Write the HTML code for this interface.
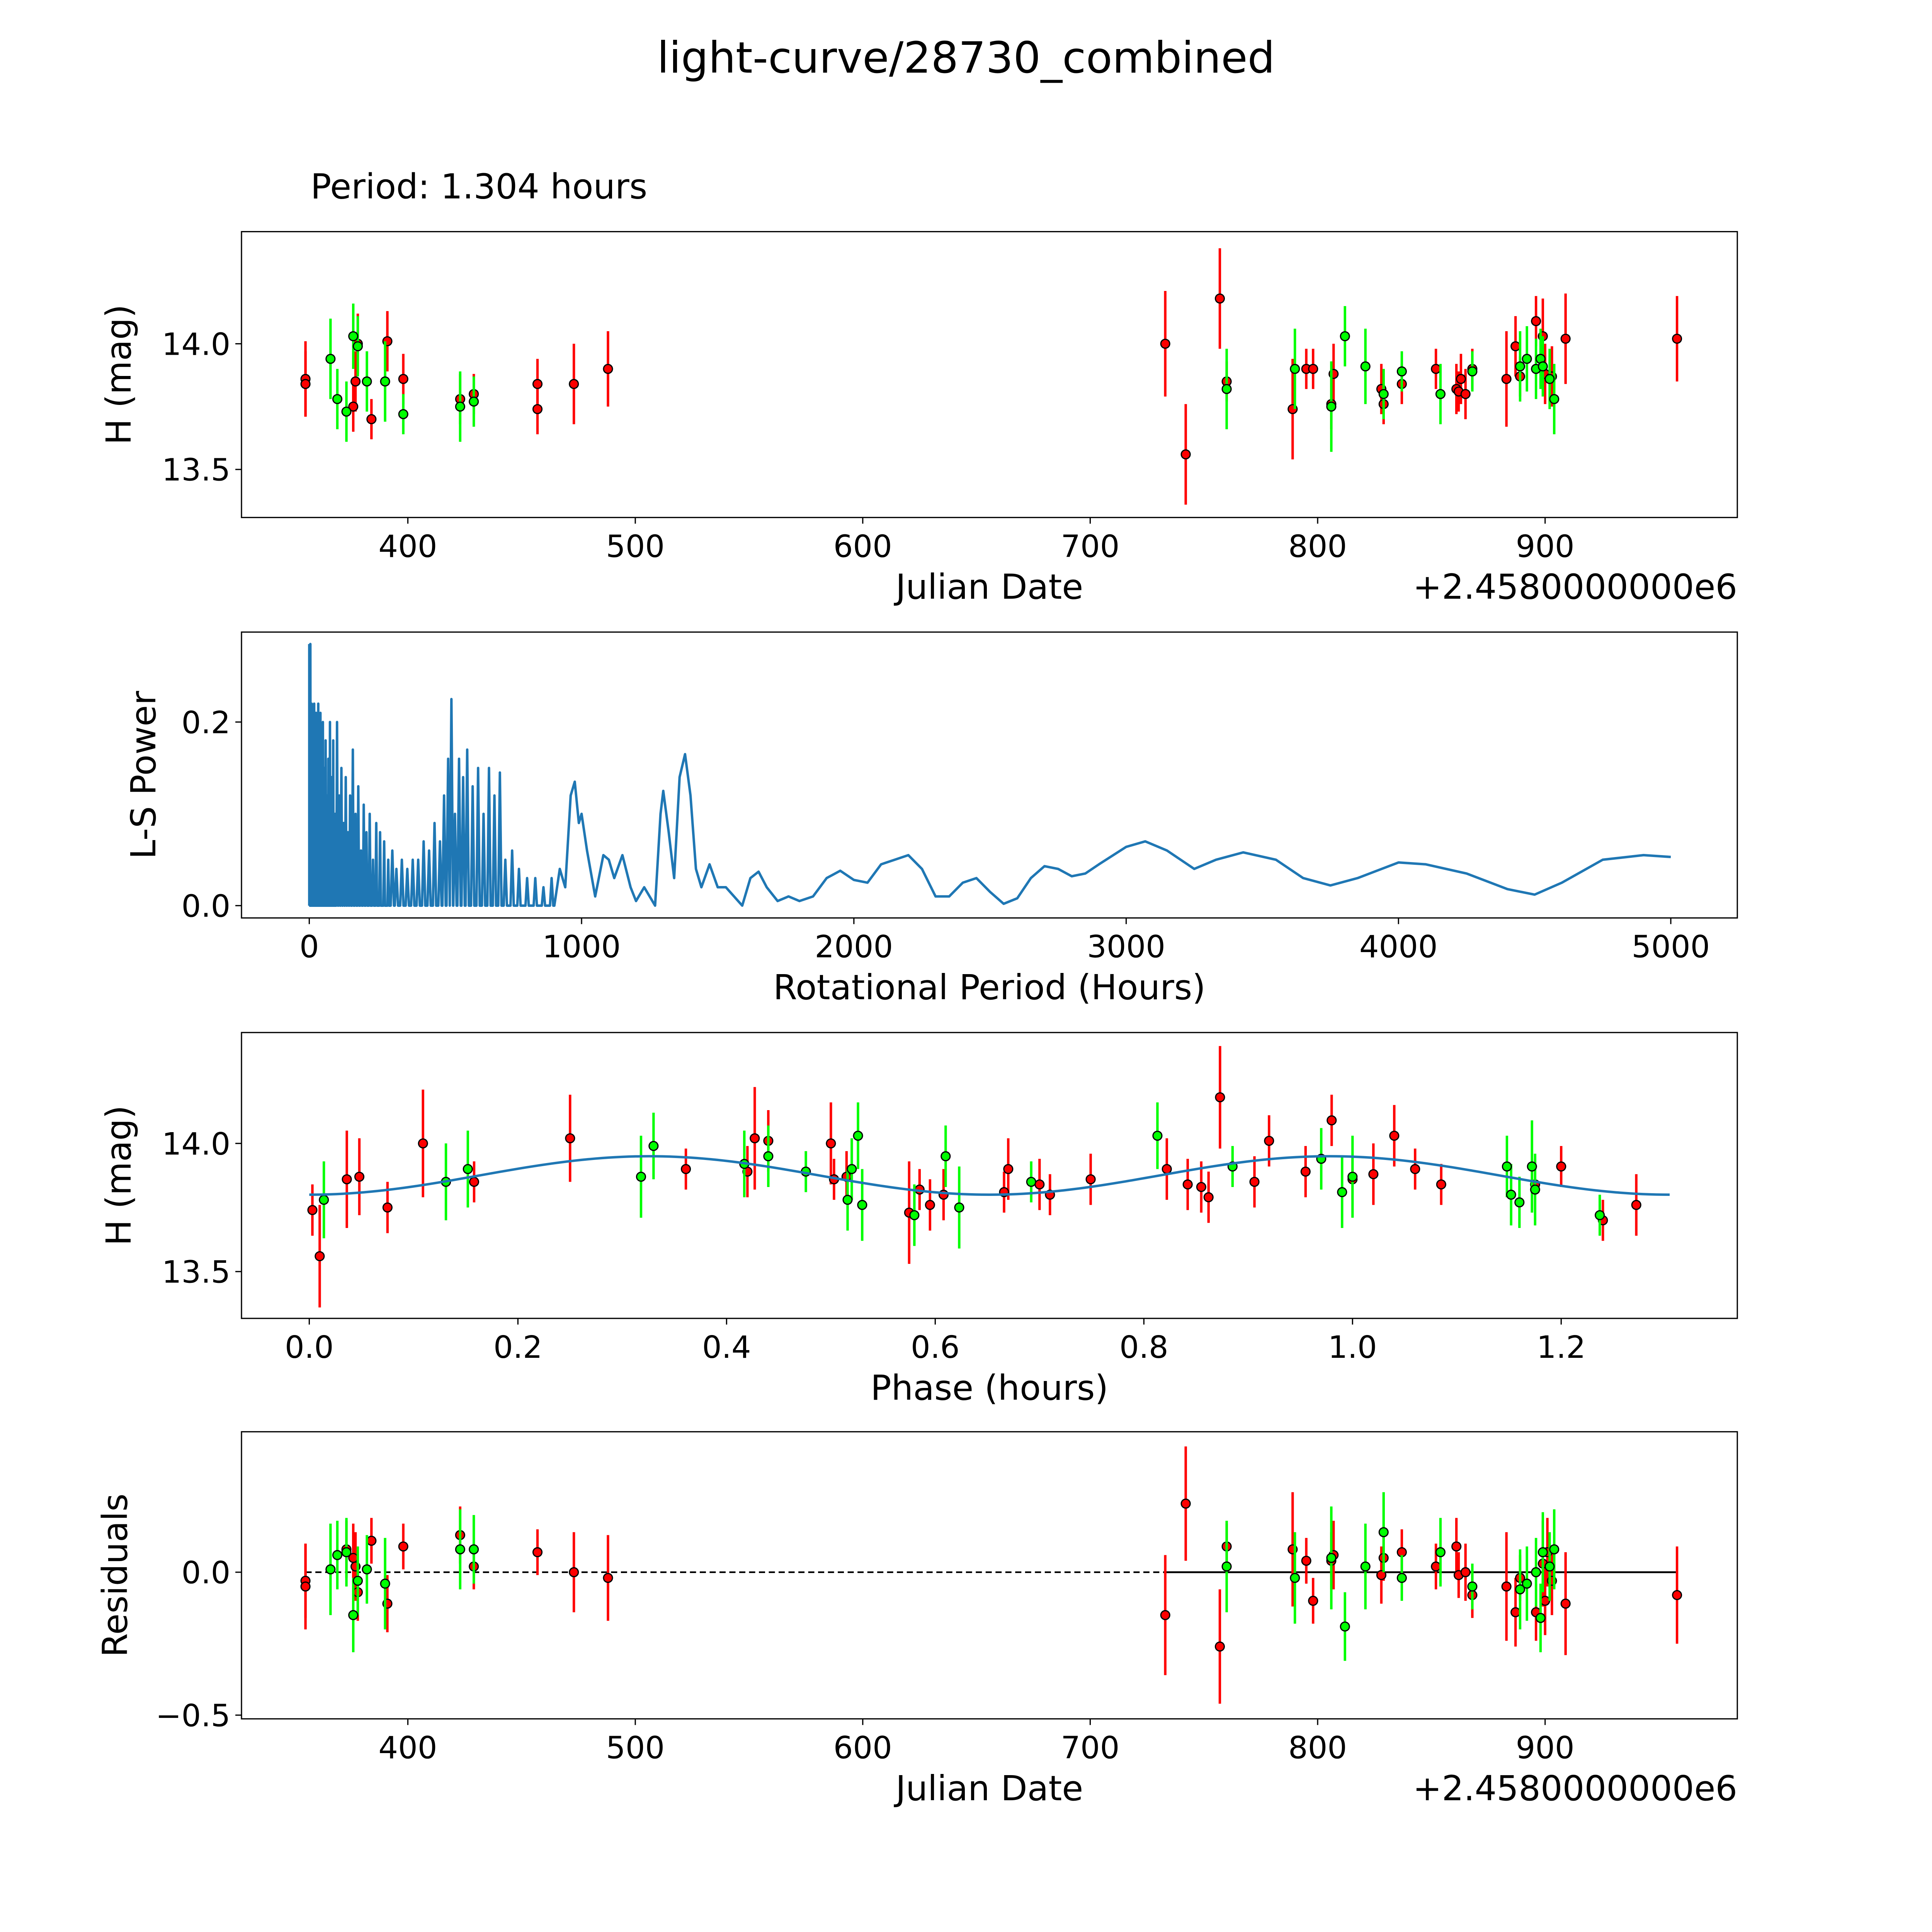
<!DOCTYPE html>
<html><head><meta charset="utf-8"><style>
html,body{margin:0;padding:0;background:#fff;width:100%;height:100%;overflow:hidden;}
svg{display:block;width:100vw;height:100vh;font-family:"DejaVu Sans","Liberation Sans",sans-serif;}
</style></head><body>
<svg id="fig" xmlns="http://www.w3.org/2000/svg" viewBox="0 0 1568 1568" preserveAspectRatio="none">
<rect width="1568" height="1568" fill="#fff"/>
<text x="784" y="59" font-size="35" text-anchor="middle">light-curve/28730_combined</text>
<text x="252" y="161" font-size="28">Period: 1.304 hours</text>
<g id="plots"></g>
</svg>
<script>
// ---- data ----
const lcRed=[[355,13.86,0.15],[355,13.84,0.13],[376,13.75,0.1],[377,13.85,0.12],[378,14.0,0.12],[384,13.70,0.08],[391,14.01,0.12],[398,13.86,0.1],[423,13.78,0.1],[429,13.80,0.08],[457,13.84,0.1],[457,13.74,0.1],[473,13.84,0.16],[488,13.90,0.15],[733,14.0,0.21],[742,13.56,0.2],[757,14.18,0.2],[760,13.85,0.08],[789,13.74,0.2],[795,13.90,0.08],[798,13.90,0.08],[806,13.76,0.1],[807,13.88,0.12],[828,13.82,0.1],[829,13.76,0.08],[837,13.84,0.08],[852,13.90,0.08],[861,13.82,0.1],[862,13.81,0.08],[863,13.86,0.1],[865,13.80,0.1],[868,13.90,0.08],[883,13.86,0.19],[887,13.99,0.12],[889,13.87,0.08],[896,14.09,0.1],[899,14.03,0.15],[900,13.88,0.12],[903,13.87,0.12],[909,14.02,0.18],[958,14.02,0.17]];
const lcGreen=[[366,13.94,0.16],[369,13.78,0.12],[373,13.73,0.12],[376,14.03,0.13],[378,13.99,0.12],[382,13.85,0.12],[390,13.85,0.16],[398,13.72,0.08],[423,13.75,0.14],[429,13.77,0.1],[760,13.82,0.16],[790,13.90,0.16],[806,13.75,0.18],[812,14.03,0.12],[821,13.91,0.15],[829,13.80,0.1],[837,13.89,0.08],[854,13.80,0.12],[868,13.89,0.08],[889,13.91,0.14],[892,13.94,0.13],[896,13.90,0.12],[898,13.94,0.12],[899,13.91,0.12],[902,13.86,0.12],[904,13.78,0.14]];
const phRed=[[0.003,13.74,0.1],[0.01,13.56,0.2],[0.036,13.86,0.19],[0.048,13.87,0.15],[0.075,13.75,0.1],[0.109,14.0,0.21],[0.158,13.85,0.08],[0.25,14.02,0.17],[0.361,13.90,0.08],[0.42,13.89,0.1],[0.427,14.02,0.2],[0.44,14.01,0.12],[0.50,14.0,0.16],[0.503,13.86,0.08],[0.515,13.87,0.1],[0.575,13.73,0.2],[0.585,13.82,0.08],[0.595,13.76,0.1],[0.608,13.80,0.1],[0.666,13.81,0.08],[0.67,13.90,0.12],[0.70,13.84,0.1],[0.71,13.80,0.08],[0.749,13.86,0.1],[0.822,13.90,0.12],[0.842,13.84,0.1],[0.855,13.83,0.1],[0.862,13.79,0.1],[0.873,14.18,0.2],[0.906,13.85,0.1],[0.92,14.01,0.1],[0.955,13.89,0.1],[0.98,14.09,0.1],[1.0,13.86,0.08],[1.02,13.88,0.12],[1.04,14.03,0.12],[1.06,13.90,0.08],[1.085,13.84,0.08],[1.175,13.84,0.1],[1.20,13.91,0.08],[1.24,13.70,0.08],[1.272,13.76,0.12]];
const phGreen=[[0.014,13.78,0.15],[0.131,13.85,0.15],[0.152,13.90,0.15],[0.318,13.87,0.16],[0.33,13.99,0.13],[0.417,13.92,0.13],[0.44,13.95,0.12],[0.476,13.89,0.08],[0.516,13.78,0.12],[0.52,13.90,0.12],[0.526,14.03,0.13],[0.53,13.76,0.14],[0.58,13.72,0.12],[0.61,13.95,0.12],[0.623,13.75,0.16],[0.692,13.85,0.08],[0.813,14.03,0.13],[0.885,13.91,0.08],[0.97,13.94,0.12],[0.99,13.81,0.14],[1.0,13.87,0.16],[1.148,13.91,0.12],[1.152,13.80,0.12],[1.16,13.77,0.1],[1.172,13.91,0.18],[1.175,13.82,0.14],[1.237,13.72,0.08]];
const modelMean=13.875, modelAmp=0.075, modelPeriod=1.304;
const resRed=[[355,-0.03,0.13],[355,-0.05,0.15],[373,0.08,0.1],[376,0.05,0.12],[377,0.02,0.12],[378,-0.07,0.1],[384,0.11,0.08],[391,-0.11,0.1],[398,0.09,0.08],[423,0.13,0.1],[429,0.02,0.08],[457,0.07,0.08],[473,0.0,0.14],[488,-0.02,0.15],[733,-0.15,0.21],[742,0.24,0.2],[757,-0.26,0.2],[760,0.09,0.08],[789,0.08,0.2],[795,0.04,0.08],[798,-0.10,0.08],[806,0.04,0.1],[807,0.06,0.12],[828,-0.01,0.1],[829,0.05,0.08],[837,0.07,0.08],[852,0.02,0.08],[861,0.09,0.1],[862,-0.01,0.08],[865,0.0,0.1],[868,-0.08,0.08],[883,-0.05,0.19],[887,-0.14,0.12],[889,-0.02,0.08],[896,-0.14,0.1],[899,0.03,0.15],[900,-0.10,0.12],[901,0.07,0.12],[903,-0.03,0.12],[909,-0.11,0.18],[958,-0.08,0.17]];
const resGreen=[[366,0.01,0.16],[369,0.06,0.12],[373,0.07,0.12],[376,-0.15,0.13],[378,-0.03,0.12],[382,0.01,0.12],[390,-0.04,0.16],[423,0.08,0.14],[429,0.08,0.12],[760,0.02,0.16],[790,-0.02,0.16],[806,0.05,0.18],[812,-0.19,0.12],[821,0.02,0.15],[829,0.14,0.14],[837,-0.02,0.08],[854,0.07,0.12],[868,-0.05,0.08],[889,-0.06,0.14],[892,-0.04,0.13],[896,0.0,0.12],[898,-0.16,0.12],[899,0.07,0.14],[902,0.02,0.12],[904,0.08,0.14]];
const spikePeriods=[2,4,6,9,12,15,18,21,25,29,33,37,41,45,50,55,60,65,70,76,82,88,95,102,110,118,126,134,142,150,160,170,180,190,200,210,222,234,246,260,275,290,305,320,340,360,380,400,420,440,460,480,495,510,522,535,550,565,580,600,620,640,660,680,700,720,745,770,800,830,860,890];
const spikePowers=[0.24,0.285,0.2,0.22,0.21,0.15,0.22,0.18,0.21,0.2,0.22,0.16,0.21,0.19,0.2,0.15,0.18,0.12,0.16,0.2,0.14,0.18,0.1,0.2,0.12,0.15,0.09,0.14,0.08,0.12,0.17,0.1,0.13,0.06,0.11,0.08,0.1,0.05,0.09,0.08,0.07,0.05,0.06,0.04,0.05,0.04,0.05,0.05,0.07,0.06,0.09,0.07,0.12,0.16,0.225,0.1,0.16,0.14,0.17,0.13,0.15,0.1,0.15,0.12,0.145,0.05,0.06,0.04,0.03,0.03,0.02,0.03];
const smoothPeriods=[900,920,940,960,975,990,1000,1020,1050,1080,1100,1120,1150,1180,1200,1230,1250,1270,1290,1300,1320,1340,1360,1380,1400,1420,1440,1470,1500,1530,1560,1590,1620,1650,1680,1720,1760,1800,1850,1900,1950,2000,2050,2100,2150,2200,2250,2300,2350,2400,2450,2500,2550,2600,2650,2700,2750,2800,2850,2900,3000,3070,3150,3250,3330,3430,3550,3650,3750,3850,4000,4100,4250,4400,4500,4600,4750,4900,5000];
const smoothPowers=[0.0,0.04,0.02,0.12,0.135,0.09,0.10,0.06,0.01,0.055,0.05,0.03,0.055,0.02,0.005,0.02,0.01,0.0,0.10,0.125,0.08,0.03,0.14,0.165,0.12,0.04,0.02,0.045,0.02,0.02,0.01,0.0,0.03,0.037,0.02,0.005,0.01,0.005,0.01,0.03,0.038,0.028,0.025,0.045,0.05,0.055,0.04,0.01,0.01,0.025,0.03,0.015,0.002,0.008,0.03,0.043,0.04,0.032,0.035,0.045,0.064,0.07,0.06,0.04,0.05,0.058,0.05,0.03,0.022,0.03,0.047,0.045,0.035,0.018,0.012,0.025,0.05,0.055,0.053];
const jdTicks=[400,500,600,700,800,900];
const periodTicks=[0,1000,2000,3000,4000,5000];
const phaseTicks=[0.0,0.2,0.4,0.6,0.8,1.0,1.2];

// ---- drawing ----
const NS="http://www.w3.org/2000/svg";
const root=document.getElementById('plots');
function el(tag,attrs,parent,text){const e=document.createElementNS(NS,tag);for(const k in attrs)e.setAttribute(k,attrs[k]);if(text!==undefined)e.textContent=text;(parent||root).appendChild(e);return e;}
function axes(name,box,xs,ys,xt,yt,xfmt,yfmt,xlabel,ylabel,ylx,offset){
  const g=el('g',{});
  
  
  el('rect',{x:box.x0,y:box.y0,width:box.x1-box.x0,height:box.y1-box.y0,fill:'none',stroke:'#000','stroke-width':1},g);
  xt.forEach(v=>{const x=xs(v);el('line',{x1:x,x2:x,y1:box.y1,y2:box.y1+5,stroke:'#000'},g);
    const t=el('text',{x:x,y:box.y1+32,'font-size':25,'text-anchor':'middle'},g,xfmt(v));});
  yt.forEach(v=>{const y=ys(v);el('line',{x1:box.x0-5,x2:box.x0,y1:y,y2:y,stroke:'#000'},g);
    const t=el('text',{x:box.x0-9,y:y+9,'font-size':25,'text-anchor':'end'},g,yfmt(v));});
  const xl=el('text',{x:803,y:box.y1+66,'font-size':28,'text-anchor':'middle'},g,xlabel);
  
  const cy=(box.y0+box.y1)/2;
  const yl=el('text',{x:ylx,y:cy,'font-size':28,'text-anchor':'middle',transform:`rotate(-90 ${ylx} ${cy})`},g,ylabel);
  
  if(offset){const o=el('text',{x:box.x1,y:box.y1+66,'font-size':28,'text-anchor':'end'},g,offset);}
  return g;
}
function errPts(g,data,xs,ys,col,name){
  data.forEach(d=>{const x=xs(d[0]);
    const l=el('line',{x1:x,x2:x,y1:ys(d[1]-d[2]),y2:ys(d[1]+d[2]),stroke:col,'stroke-width':2},g);
    });
  data.forEach(d=>{const c=el('circle',{cx:xs(d[0]),cy:ys(d[1]),r:3.6,fill:col,stroke:'#000','stroke-width':1},g);
    });
}
const f1=v=>v.toFixed(1);
const fneg=v=>(v<0?'\u2212':'')+Math.abs(v).toFixed(1);
const RED='#ff0000',GRN='#00ff00';

// Panel 1
const b1={x0:196,x1:1410,y0:188,y1:420};
const xJD=d=>331+(d-400)*1.846;
const y1s=m=>279-(m-14)*204;
const g1=axes('light-curve-panel',b1,xJD,y1s,jdTicks,[13.5,14.0],v=>String(v),f1,'Julian Date','H (mag)',106,'+2.4580000000e6');
errPts(g1,lcRed,xJD,y1s,RED,'red-observation');
errPts(g1,lcGreen,xJD,y1s,GRN,'green-observation');

// Panel 2
const b2={x0:196,x1:1410,y0:513,y1:745};
const xP=p=>251+p*0.221;
const y2s=v=>735-v*745;
const g2=axes('periodogram-panel',b2,xP,y2s,periodTicks,[0.0,0.2],v=>String(v),f1,'Rotational Period (Hours)','L-S Power',126);
let dpath=`M${xP(0)},${y2s(0)}`;
spikePeriods.forEach((p,i)=>{const w=p<100?1.2:(p<300?3:6);dpath+=` L${xP(Math.max(0,p-w))},${y2s(0)} L${xP(p)},${y2s(spikePowers[i])} L${xP(p+w)},${y2s(0)}`;});
smoothPeriods.forEach((p,i)=>{dpath+=` L${xP(p)},${y2s(smoothPowers[i])}`;});
const pl=el('path',{d:dpath,fill:'none',stroke:'#1f77b4','stroke-width':2,'stroke-linejoin':'round'},g2);


const pl2=el('line',{x1:xP(0),x2:xP(0),y1:y2s(0),y2:y2s(0.285),stroke:'#1f77b4','stroke-width':2},g2);



// Panel 3
const b3={x0:196,x1:1410,y0:838,y1:1070};
const xPh=p=>251+p*846.7;
const y3s=m=>928-(m-14)*208;
const g3=axes('phase-panel',b3,xPh,y3s,phaseTicks,[13.5,14.0],f1,f1,'Phase (hours)','H (mag)',106);
errPts(g3,phRed,xPh,y3s,RED,'red-phase');
errPts(g3,phGreen,xPh,y3s,GRN,'green-phase');
let mp='';
for(let i=0;i<=200;i++){const ph=modelPeriod*i/200;const m=modelMean-modelAmp*Math.cos(4*Math.PI*ph/modelPeriod);mp+=(i?' L':'M')+xPh(ph)+','+y3s(m);}
const ml=el('path',{d:mp,fill:'none',stroke:'#1f77b4','stroke-width':2},g3);



// Panel 4
const b4={x0:196,x1:1410,y0:1162,y1:1395};
const y4s=r=>1276-r*232;
const g4=axes('residuals-panel',b4,xJD,y4s,jdTicks,[-0.5,0.0],v=>String(v),fneg,'Julian Date','Residuals',103,'+2.4580000000e6');
const z1=el('line',{x1:xJD(355),x2:xJD(733),y1:y4s(0),y2:y4s(0),stroke:'#000','stroke-width':1.3,'stroke-dasharray':'5,3'},g4);


const z2=el('line',{x1:xJD(733),x2:xJD(958),y1:y4s(0),y2:y4s(0),stroke:'#000','stroke-width':1.5},g4);


errPts(g4,resRed,xJD,y4s,RED,'red-residual');
errPts(g4,resGreen,xJD,y4s,GRN,'green-residual');
</script>
</body></html>
